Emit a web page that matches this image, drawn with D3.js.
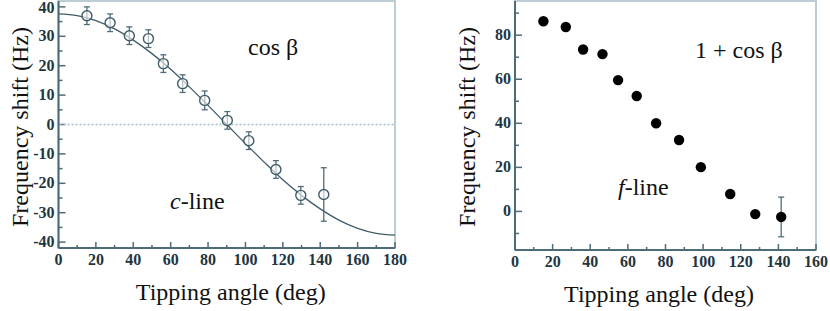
<!DOCTYPE html>
<html>
<head>
<meta charset="utf-8">
<script src="https://cdn.jsdelivr.net/npm/d3@7"></script>
<style>
  body { margin: 0; background: #fff; }
  svg { display: block; }
</style>
</head>
<body>
<svg id="chart" width="830" height="311"></svg>
<script>
// c-line (left panel): open circles with error bars
const cAngles = [15.2, 27.6, 37.9, 48.1, 56.1, 66.4, 78.2, 90.3, 101.8, 116.3, 129.6, 141.9];
const cShift  = [37.0, 34.6, 30.2, 29.2, 20.7, 13.9, 8.2, 1.4, -5.5, -15.3, -24.1, -23.8];
const cError  = [3.0, 3.0, 3.0, 3.0, 3.0, 3.0, 3.2, 3.0, 3.0, 3.0, 3.0, 9.1];

// fitted cos curve, every 10 deg
const fitAngles = [0, 10, 20, 30, 40, 50, 60, 70, 80, 90, 100, 110, 120, 130, 140, 150, 160, 170, 180];
const fitShift  = [37.6, 37.0, 35.3, 32.5, 28.7, 24.1, 18.8, 12.8, 6.5, 0, -6.5, -12.8, -18.8, -24.1, -28.7, -32.5, -35.3, -37.0, -37.6];

// f-line (right panel): filled circles
const fAngles = [15.1, 27.0, 36.2, 46.5, 54.8, 64.7, 75.0, 87.2, 98.8, 114.4, 127.7, 141.5];
const fShift  = [86.3, 83.7, 73.5, 71.4, 59.6, 52.4, 40.0, 32.4, 20.1, 7.9, -1.2, -2.5];
const fError  = [0, 0, 0, 0, 0, 0, 0, 0, 0, 0, 0, 9.0];

// ticks
const leftXTicks = [0, 20, 40, 60, 80, 100, 120, 140, 160, 180];
const leftYTicks = [-40, -30, -20, -10, 0, 10, 20, 30, 40];
const rightXTicks = [0, 20, 40, 60, 80, 100, 120, 140, 160];
const rightYTicks = [0, 20, 40, 60, 80];

const svg = d3.select("#chart");
const serif = "'Liberation Serif', 'Times New Roman', Times, serif";
const axisColor = "#4d6b78";
const frameColor = "#bccdd6";
const fmt = d => (d < 0 ? "-" : "") + Math.abs(d);

function tickText(sel) {
    sel.attr("font-family", serif)
        .attr("font-size", 16)
        .attr("font-weight", "bold")
        .attr("fill", "#1f3640");
}

function bigText(sel) {
    sel.attr("font-family", serif)
        .attr("font-size", 24)
        .attr("fill", "#111");
}

// draws frame, ticks and labels for one panel
function drawPanel(x, y, xTicks, yTicks, yMinor, xMinor) {
    const [x0, x1] = x.range();
    const [y0, y1] = y.range();
    const g = svg.append("g");

    // light frame on top and right
    g.append("rect")
        .attr("x", x0).attr("y", y1)
        .attr("width", x1 - x0).attr("height", y0 - y1)
        .attr("fill", "none")
        .attr("stroke", frameColor)
        .attr("stroke-width", 2);

    // darker left and bottom axis lines
    g.append("line").attr("x1", x0).attr("x2", x0).attr("y1", y1).attr("y2", y0)
        .attr("stroke", axisColor).attr("stroke-width", 2);
    g.append("line").attr("x1", x0).attr("x2", x1).attr("y1", y0).attr("y2", y0)
        .attr("stroke", axisColor).attr("stroke-width", 2);

    // x ticks (pointing inward)
    g.selectAll(".xmaj").data(xTicks).enter().append("line")
        .attr("x1", d => x(d)).attr("x2", d => x(d))
        .attr("y1", y0).attr("y2", y0 - 6)
        .attr("stroke", axisColor).attr("stroke-width", 1.5);
    g.selectAll(".xmin").data(xMinor).enter().append("line")
        .attr("x1", d => x(d)).attr("x2", d => x(d))
        .attr("y1", y0).attr("y2", y0 - 3)
        .attr("stroke", axisColor).attr("stroke-width", 1.5);
    g.selectAll(".xlab").data(xTicks).enter().append("text")
        .attr("x", d => x(d)).attr("y", y0 + 17)
        .attr("text-anchor", "middle")
        .call(tickText)
        .text(fmt);

    // y ticks (pointing inward)
    g.selectAll(".ymaj").data(yTicks).enter().append("line")
        .attr("x1", x0).attr("x2", x0 + 7)
        .attr("y1", d => y(d)).attr("y2", d => y(d))
        .attr("stroke", axisColor).attr("stroke-width", 1.5);
    g.selectAll(".ymin").data(yMinor).enter().append("line")
        .attr("x1", x0).attr("x2", x0 + 4)
        .attr("y1", d => y(d)).attr("y2", d => y(d))
        .attr("stroke", axisColor).attr("stroke-width", 1.5);
    g.selectAll(".ylab").data(yTicks).enter().append("text")
        .attr("x", x0 - 4).attr("y", d => Math.max(y(d) + 5, 13))
        .attr("text-anchor", "end")
        .call(tickText)
        .text(fmt);

    return g;
}

function errorBars(g, x, y, angles, vals, errs, color) {
    const idx = d3.range(angles.length).filter(i => errs[i] > 0);
    idx.forEach(i => {
        const cx = x(angles[i]);
        const top = y(vals[i] + errs[i]), bot = y(vals[i] - errs[i]);
        g.append("line").attr("x1", cx).attr("x2", cx).attr("y1", top).attr("y2", bot)
            .attr("stroke", color).attr("stroke-width", 1.3);
        [top, bot].forEach(yy => g.append("line")
            .attr("x1", cx - 3).attr("x2", cx + 3).attr("y1", yy).attr("y2", yy)
            .attr("stroke", color).attr("stroke-width", 1.3));
    });
}

// ---------- left panel ----------
const xL = d3.scaleLinear().domain([0, 180]).range([58.5, 395]);
const yL = d3.scaleLinear().domain([-42, 42]).range([248, 1]);
const gL = drawPanel(xL, yL, leftXTicks, leftYTicks,
    [-35, -25, -15, -5, 5, 15, 25, 35], [10, 30, 50, 70, 90, 110, 130, 150, 170]);

// dotted zero line
gL.append("line")
    .attr("x1", xL(0) + 1).attr("x2", xL(180))
    .attr("y1", yL(0)).attr("y2", yL(0))
    .attr("stroke", "#9fbccc").attr("stroke-width", 1.6)
    .attr("stroke-dasharray", "2,2");

// fit curve
const fitLine = d3.line()
    .x((d, i) => xL(fitAngles[i]))
    .y(d => yL(d))
    .curve(d3.curveCatmullRom);
gL.append("path")
    .datum(fitShift)
    .attr("d", fitLine)
    .attr("fill", "none")
    .attr("stroke", "#3f5c68")
    .attr("stroke-width", 1.3);

errorBars(gL, xL, yL, cAngles, cShift, cError, "#4f6c78");

gL.selectAll(".cpt").data(cShift).enter().append("circle")
    .attr("cx", (d, i) => xL(cAngles[i]))
    .attr("cy", d => yL(d))
    .attr("r", 5)
    .attr("fill", "#fff")
    .attr("fill-opacity", 0.6)
    .attr("stroke", "#3f5c68")
    .attr("stroke-width", 1.4);

gL.append("text").attr("x", 248).attr("y", 55).call(bigText).text("cos β");
const cl = gL.append("text").attr("x", 170).attr("y", 209).call(bigText);
cl.append("tspan").attr("font-style", "italic").text("c");
cl.append("tspan").text("-line");

gL.append("text")
    .attr("x", (xL(0) + xL(180)) / 2 + 4).attr("y", 300)
    .attr("text-anchor", "middle")
    .call(bigText)
    .text("Tipping angle (deg)");
gL.append("text")
    .attr("transform", "translate(28,127) rotate(-90)")
    .attr("text-anchor", "middle")
    .call(bigText)
    .text("Frequency shift (Hz)");

// ---------- right panel ----------
const xR = d3.scaleLinear().domain([0, 160]).range([515, 816]);
const yR = d3.scaleLinear().domain([-17.5, 95.5]).range([250, 1]);
const gR = drawPanel(xR, yR, rightXTicks, rightYTicks,
    [-10, 10, 30, 50, 70, 90], [10, 30, 50, 70, 90, 110, 130, 150]);

errorBars(gR, xR, yR, fAngles, fShift, fError, "#4f6c78");

gR.selectAll(".fpt").data(fShift).enter().append("circle")
    .attr("cx", (d, i) => xR(fAngles[i]))
    .attr("cy", d => yR(d))
    .attr("r", 5.2)
    .attr("fill", "#000");

gR.append("text").attr("x", 695).attr("y", 58).call(bigText).text("1 + cos β");
const fl = gR.append("text").attr("x", 618).attr("y", 195).call(bigText);
fl.append("tspan").attr("font-style", "italic").text("f");
fl.append("tspan").text("-line");

gR.append("text")
    .attr("x", 659).attr("y", 302)
    .attr("text-anchor", "middle")
    .call(bigText)
    .text("Tipping angle (deg)");
gR.append("text")
    .attr("transform", "translate(475,127) rotate(-90)")
    .attr("text-anchor", "middle")
    .call(bigText)
    .text("Frequency shift (Hz)");
</script>
</body>
</html>
